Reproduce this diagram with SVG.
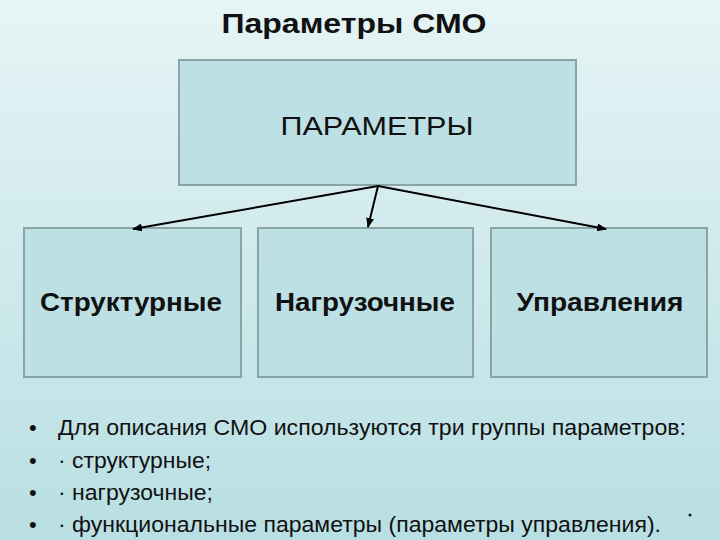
<svg xmlns="http://www.w3.org/2000/svg" width="720" height="540" viewBox="0 0 720 540">
<defs>
<linearGradient id="bg" x1="0" y1="0" x2="0" y2="1">
<stop offset="0" stop-color="#e6f4f5"/>
<stop offset="1" stop-color="#b8dfe3"/>
</linearGradient>
<marker id="ah" markerWidth="10" markerHeight="8" refX="9" refY="4" orient="auto" markerUnits="userSpaceOnUse">
<path d="M0,0 L10,4 L0,8 z" fill="#000"/>
</marker>
<style>
.box{fill:#bde0e4;stroke:#8aa3a6;stroke-width:2}
.lbl{font-family:"Liberation Sans",Arial,sans-serif;font-size:25px;font-weight:bold;fill:#111;text-anchor:middle}
.conn{stroke:#000;stroke-width:2;fill:none;marker-end:url(#ah)}
.txt{font-family:"Liberation Sans",Arial,sans-serif;font-size:22px;fill:#111}
</style>
</defs>
<rect width="720" height="540" fill="url(#bg)"/>
<text x="354" y="33" font-family="Liberation Sans, Arial, sans-serif" font-size="28" font-weight="bold" text-anchor="middle" fill="#111" textLength="265" lengthAdjust="spacingAndGlyphs">Параметры СМО</text>
<g id="node-params">
<rect class="box" x="179" y="60" width="397" height="125"/>
<text x="377" y="135" font-family="Liberation Sans, Arial, sans-serif" font-size="26" text-anchor="middle" fill="#111" textLength="193" lengthAdjust="spacingAndGlyphs">ПАРАМЕТРЫ</text>
</g>
<g id="node-struct">
<rect class="box" x="24" y="228" width="217" height="149"/>
<text class="lbl" x="131" y="311" textLength="182" lengthAdjust="spacingAndGlyphs">Структурные</text>
</g>
<g id="node-load">
<rect class="box" x="258" y="228" width="215" height="149"/>
<text class="lbl" x="365" y="311" textLength="180" lengthAdjust="spacingAndGlyphs">Нагрузочные</text>
</g>
<g id="node-ctrl">
<rect class="box" x="491" y="228" width="216" height="149"/>
<text class="lbl" x="600" y="311" textLength="167" lengthAdjust="spacingAndGlyphs">Управления</text>
</g>
<g id="connectors">
<line class="conn" x1="378" y1="186" x2="133" y2="229"/>
<line class="conn" x1="378" y1="186" x2="368" y2="227"/>
<line class="conn" x1="378" y1="186" x2="606" y2="229"/>
</g>
<g id="bullets" class="txt">
<text x="29" y="435">•</text><text x="58" y="435" textLength="628" lengthAdjust="spacingAndGlyphs">Для описания СМО используются три группы параметров:</text>
<text x="29" y="468">•</text><text x="58" y="468" textLength="153" lengthAdjust="spacingAndGlyphs">· структурные;</text>
<text x="29" y="500">•</text><text x="58" y="500" textLength="155" lengthAdjust="spacingAndGlyphs">· нагрузочные;</text>
<text x="29" y="532">•</text><text x="58" y="532" textLength="603" lengthAdjust="spacingAndGlyphs">· функциональные параметры (параметры управления).</text>
<circle cx="690" cy="515" r="1.5" fill="#111"/>
</g>
</svg>
